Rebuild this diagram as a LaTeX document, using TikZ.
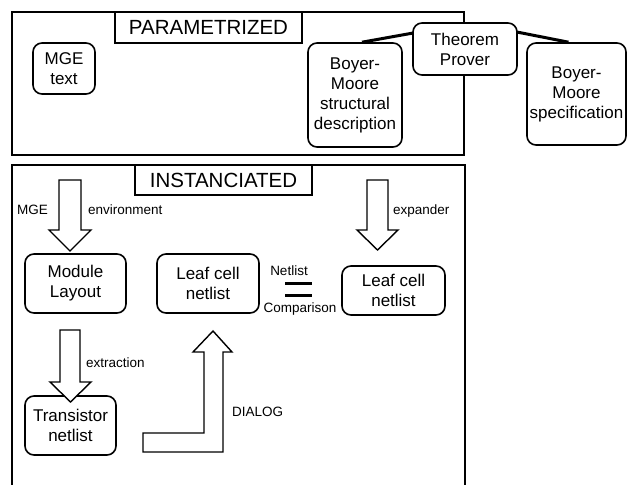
\documentclass[tikz,border=0pt]{standalone}
\usepackage{fontspec}
\setmainfont{Liberation Sans}
\usetikzlibrary{calc}
\tikzset{
  frame/.style={draw, line width=2.4pt},
  titlebox/.style={draw, line width=1.8pt, fill=white, inner sep=0pt, font=\fontsize{20.5}{24}\selectfont},
  box/.style={draw, fill=white, line width=1.6pt, rounded corners=9pt, inner sep=0pt, align=center, font=\fontsize{17}{20}\selectfont},
  blockarrow/.style={draw, line width=1.4pt, line join=miter, fill=white},
  lbl/.style={inner sep=0pt, font=\fontsize{13.5}{16}\selectfont},
  link/.style={line width=3pt},
}
\begin{document}
\begin{tikzpicture}[x=1pt,y=-1pt]
\useasboundingbox (0,0) rectangle (628,484);
% frames
\draw[frame] (12,12) rectangle (464,155);
\draw[frame] (12,486) -- (12,165) -- (465,165) -- (465,486);
\node[titlebox, minimum width=187pt, minimum height=31pt] (ptitle) at (208.5,27.5) {PARAMETRIZED};
\node[titlebox, minimum width=177pt, minimum height=30pt] (ititle) at (223.5,180) {INSTANCIATED};
% parametrized boxes
\node[box, minimum width=62pt, minimum height=51pt, align=left] (mge) at (64,68.5) {MGE\\\,\,text};
\node[box, minimum width=94pt, minimum height=104pt] (bms) at (355,95) {Boyer-\\Moore\\structural\\description};
\node[box, minimum width=104pt, minimum height=52pt] (tp) at (465,49) {Theorem\\Prover};
\node[box, minimum width=99pt, minimum height=102pt] (bmsp) at (576.5,94) {Boyer-\\Moore\\specification};
\coordinate (tpl) at ($(tp.west)+(1,-16)$);
\coordinate (tpr) at ($(tp.east)+(-1,-17)$);
\draw[link] (tpl) -- ($(bms.north)+(7,0)$);
\draw[link] (tpr) -- ($(bmsp.north)+(-8,0)$);
% instanciated boxes
\node[box, minimum width=101pt, minimum height=59pt] (ml) at (75.5,283.5) {Module\\Layout};
\node[box, minimum width=102pt, minimum height=59pt] (lcn1) at (208,283.5) {Leaf cell\\netlist};
\node[box, minimum width=103pt, minimum height=49pt] (lcn2) at (393.5,290.5) {Leaf cell\\netlist};
\node[box, minimum width=91pt, minimum height=59pt] (tn) at (70.5,425.5) {Transistor\\netlist};
% block arrows
\draw[blockarrow] (59,180) -- (81,180) -- (81,230) -- (91,230) -- (70,251) -- (49,230) -- (59,230) -- cycle;
\draw[blockarrow] (367,180) -- (388,180) -- (388,230) -- (398,230) -- (377.5,250) -- (357,230) -- (367,230) -- cycle;
\draw[blockarrow] (60,330) -- (80,330) -- (80,382) -- (91,382) -- (70.5,402) -- (50,382) -- (60,382) -- cycle;
\draw[blockarrow] (143,433) -- (204,433) -- (204,352) -- (193,352) -- (213,331) -- (232,352) -- (223,352) -- (223,452) -- (143,452) -- cycle;
% equals
\draw[line width=3pt] (285,283) -- (312,283);
\draw[line width=3pt] (285,295) -- (312,295);
% labels
\node[lbl, anchor=west] (lmge) at (17,210) {MGE};
\node[lbl, anchor=west] (lenv) at (88,210) {environment};
\node[lbl, anchor=west] (lexp) at (393,211) {expander};
\node[lbl, anchor=west] (lext) at (86,363) {extraction};
\node[lbl, anchor=west] (ldia) at (232,412) {DIALOG};
\node[lbl] (lnet) at (289,271) {Netlist};
\node[lbl] (lcmp) at (300,309) {Comparison};
\end{tikzpicture}
\end{document}
